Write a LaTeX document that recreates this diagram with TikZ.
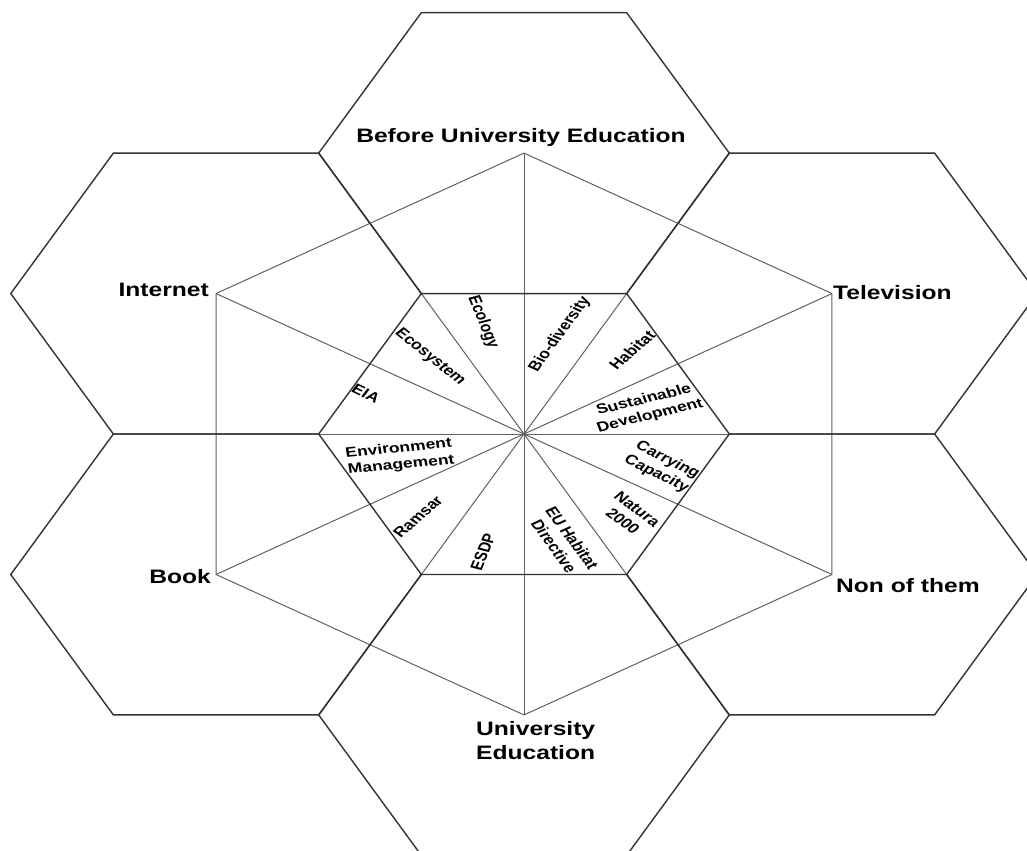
\documentclass[tikz,border=0pt]{standalone}
\usepackage{fontspec}
\setmainfont{Liberation Sans}
\tikzset{
  hexline/.style={line width=1.4pt, black!80},
  spoke/.style={line width=1pt, black!62},
  mainlbl/.style={font=\bfseries\fontsize{24.6}{30.8}\selectfont, inner sep=0pt},
  termlbl/.style={font=\bfseries\fontsize{17.5}{21}\selectfont, inner sep=0pt, align=center}
}
\newcommand{\hexR}{205.3}
\newcommand{\hexD}{355.6}

\begin{document}
\begin{tikzpicture}[x=1pt, y=1pt, yscale=0.79, transform shape]
  \useasboundingbox (-524,-527.8) rectangle (503,549.4);
  \fill[white] (-524,-527.8) rectangle (503,549.4);
  \clip (-524,-527.8) rectangle (503,549.4);
  \coordinate (c) at (0,0);
  % centres of the six outer cells
  \foreach \a/\n in {90/top, 30/tv, -30/non, -90/bot, -150/book, 150/inet}
    \coordinate (\n) at (\a:\hexD);
  % corners of the middle cell
  \foreach \a in {0,60,...,300}
    \coordinate (v\a) at (\a:\hexR);
  % spokes and outer ring
  \foreach \a in {0,60,...,300}
    \draw[spoke] (c) -- (v\a);
  \foreach \n in {top, tv, non, bot, book, inet}
    \draw[spoke] (c) -- (\n);
  \draw[spoke] (top) -- (tv) -- (non) -- (bot) -- (book) -- (inet) -- cycle;
  % honeycomb
  \foreach \n in {top, tv, non, bot, book, inet}
    \draw[hexline] (\n) ++(0:\hexR) -- ++(120:\hexR) -- ++(180:\hexR) -- ++(240:\hexR) -- ++(300:\hexR) -- ++(0:\hexR) -- cycle;

  % sources
  \node[mainlbl, anchor=base] (lbefore) at ([shift={(-3,13)}]top) {Before University Education};
  \node[mainlbl, anchor=base east] (linet) at ([shift={(-7,-3.4)}]inet) {Internet};
  \node[mainlbl, anchor=base west] (ltv) at ([shift={(1,-7.6)}]tv) {Television};
  \node[mainlbl, anchor=base east] (lbook) at ([shift={(-5,-11.4)}]book) {Book};
  \node[mainlbl, anchor=base west] (lnon) at ([shift={(4,-22.4)}]non) {Non of them};
  \node[mainlbl, anchor=north west, align=left] (luni) at ([shift={(-48,-7.6)}]bot) {University\\Education};

  % terms
  \node[termlbl, rotate=-72] (tecol) at (-41,141.8) {Ecology};
  \node[termlbl, rotate=60] (tbio) at (36,126.6) {Bio-diversity};
  \node[termlbl, rotate=48] (thab) at (108,106) {Habitat};
  \node[termlbl, rotate=17] (tsus) at (123,32.9) {Sustainable\\Development};
  \node[termlbl, rotate=-32] (tcar) at (138,-41.8) {Carrying\\Capacity};
  \node[termlbl, rotate=-43] (tnat) at (106,-102.5) {Natura\\2000};
  \node[termlbl, rotate=-60] (teu) at (39,-136.7) {EU Habitat\\Directive};
  \node[termlbl, rotate=72] (tesdp) at (-41,-149.4) {ESDP};
  \node[termlbl, rotate=48] (tram) at (-106,-105) {Ramsar};
  \node[termlbl, rotate=7] (tenv) at (-124,-29) {Environment\\Management};
  \node[termlbl, rotate=-31] (teia) at (-158,51.5) {EIA};
  \node[termlbl, rotate=-45] (tecos) at (-94,97) {Ecosystem};
\end{tikzpicture}
\end{document}
